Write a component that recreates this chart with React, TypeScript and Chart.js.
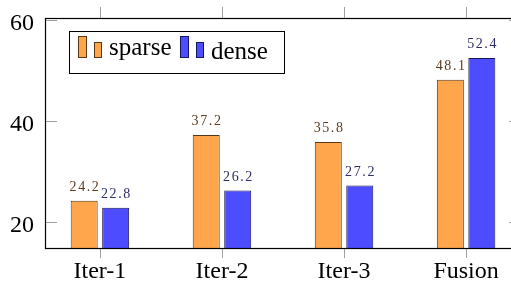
import React, { useEffect, useRef } from 'react';
import { Chart, registerables } from 'chart.js';
Chart.register(...registerables);

const categories = ['Iter-1', 'Iter-2', 'Iter-3', 'Fusion'];
const seriesNames = ['sparse', 'dense'];
const sparseValues = [24.2, 37.2, 35.8, 48.1];
const denseValues = [22.8, 26.2, 27.2, 52.4];
const yTicks = [20, 40, 60];

const ORANGE = 'rgb(255,166,77)';
const ORANGE_EDGE = 'rgb(85,55,25)';
const BLUE = 'rgb(77,77,255)';
const BLUE_EDGE = 'rgb(22,22,90)';
const LABEL_COLORS = ['#5b3b1e', '#2b2b66'];

const framePlugin = {
  id: 'frame',
  afterDatasetsDraw(chart: any) {
    const { ctx, chartArea: a, scales } = chart;
    ctx.save();
    // value labels
    ctx.font = '14px "Liberation Serif"';
    (ctx as any).letterSpacing = '1.6px';
    ctx.textAlign = 'center';
    ctx.textBaseline = 'alphabetic';
    chart.data.datasets.forEach((ds: any, i: number) => {
      const meta = chart.getDatasetMeta(i);
      ctx.fillStyle = LABEL_COLORS[i];
      meta.data.forEach((bar: any, j: number) => {
        const v = ds.data[j].y;
        ctx.fillText(v.toFixed(1), bar.x + 0.8, bar.y - 10);
      });
    });
    (ctx as any).letterSpacing = '0px';
    // axis tick labels
    ctx.fillStyle = '#000';
    ctx.font = '24px "Liberation Serif"';
    ctx.textAlign = 'right';
    yTicks.forEach((v) => {
      const y = scales.y.getPixelForValue(v);
      ctx.fillText(String(v), a.left - 11, y + 10.5);
    });
    ctx.textAlign = 'center';
    categories.forEach((c, i) => {
      const x = scales.x.getPixelForValue(i);
      ctx.fillText(c, x, a.bottom + 30);
    });
    // ticks
    ctx.strokeStyle = '#a0a0a0';
    ctx.lineWidth = 1;
    ctx.beginPath();
    categories.forEach((_, i) => {
      const x = Math.round(scales.x.getPixelForValue(i)) + 0.5;
      ctx.moveTo(x, a.bottom);
      ctx.lineTo(x, a.bottom + 10);
      ctx.moveTo(x, a.top);
      ctx.lineTo(x, a.top - 11);
    });
    yTicks.forEach((v) => {
      const y = Math.round(scales.y.getPixelForValue(v)) + 0.5;
      ctx.moveTo(a.left, y);
      ctx.lineTo(a.left + 12, y);
      ctx.moveTo(a.right, y);
      ctx.lineTo(a.right - 12, y);
    });
    ctx.stroke();
    // frame
    ctx.strokeStyle = '#000';
    ctx.lineWidth = 1.2;
    ctx.strokeRect(a.left + 0.5, a.top + 0.5, a.right - a.left, a.bottom - a.top);
    // legend
    const lx = a.left + 24;
    const ly = a.top + 13;
    ctx.fillStyle = '#fff';
    ctx.fillRect(lx + 0.5, ly + 0.5, 215, 42);
    ctx.lineWidth = 1;
    ctx.strokeRect(lx + 0.5, ly + 0.5, 215, 42);
    const drawIcon = (x: number, fill: string, edge: string) => {
      ctx.fillStyle = fill;
      ctx.strokeStyle = edge;
      ctx.lineWidth = 1;
      ctx.fillRect(x + 0.5, ly + 5.5, 8, 21);
      ctx.strokeRect(x + 0.5, ly + 5.5, 8, 21);
      ctx.fillRect(x + 16.5, ly + 11.5, 7, 15);
      ctx.strokeRect(x + 16.5, ly + 11.5, 7, 15);
    };
    drawIcon(lx + 9, ORANGE, ORANGE_EDGE);
    drawIcon(lx + 111, BLUE, BLUE_EDGE);
    ctx.fillStyle = '#000';
    ctx.font = '25px "Liberation Serif"';
    ctx.textAlign = 'left';
    ctx.fillText(seriesNames[0], lx + 40, ly + 24);
    ctx.fillText(seriesNames[1], lx + 142, ly + 28);
    ctx.restore();
  },
};

export default function App() {
  const ref = useRef<HTMLCanvasElement>(null);
  useEffect(() => {
    if (!ref.current) return;
    const chart = new Chart(ref.current, {
      type: 'bar',
      data: {
        datasets: [
          {
            label: seriesNames[0],
            data: sparseValues.map((v, i) => ({ x: i, y: v })),
            backgroundColor: ORANGE,
            borderColor: ORANGE_EDGE,
            borderWidth: 1,
            borderSkipped: false,
          },
          {
            label: seriesNames[1],
            data: denseValues.map((v, i) => ({ x: i, y: v })),
            backgroundColor: BLUE,
            borderColor: BLUE_EDGE,
            borderWidth: 1,
            borderSkipped: false,
          },
        ] as any,
      },
      options: {
        responsive: false,
        animation: false,
        devicePixelRatio: 1,
        categoryPercentage: 0.516,
        barPercentage: 0.857,
        layout: { padding: { top: 18, right: 19, left: 0, bottom: 0 } },
        plugins: { legend: { display: false }, tooltip: { enabled: false } },
        scales: {
          x: {
            type: 'linear',
            offset: false,
            min: -0.45,
            max: 3.45,
            grid: { display: false, offset: false },
            border: { display: false },
            afterBuildTicks: (s: any) => {
              s.ticks = categories.map((_, i) => ({ value: i }));
            },
            afterFit: (s: any) => {
              s.height = 34;
            },
            ticks: { display: false },
          },
          y: {
            min: 14.85,
            max: 60.3,
            grid: { display: false },
            border: { display: false },
            afterBuildTicks: (s: any) => {
              s.ticks = yTicks.map((v) => ({ value: v }));
            },
            afterFit: (s: any) => {
              s.width = 45;
            },
            ticks: { display: false },
          },
        } as any,
      },
      plugins: [framePlugin],
    });
    return () => chart.destroy();
  }, []);
  return (
    <div style={{ position: 'fixed', left: 0, top: 0, width: 511, height: 282, overflow: 'hidden', background: '#fff' }}>
      <canvas ref={ref} width={540} height={282} style={{ width: 540, height: 282, display: 'block' }} />
    </div>
  );
}
